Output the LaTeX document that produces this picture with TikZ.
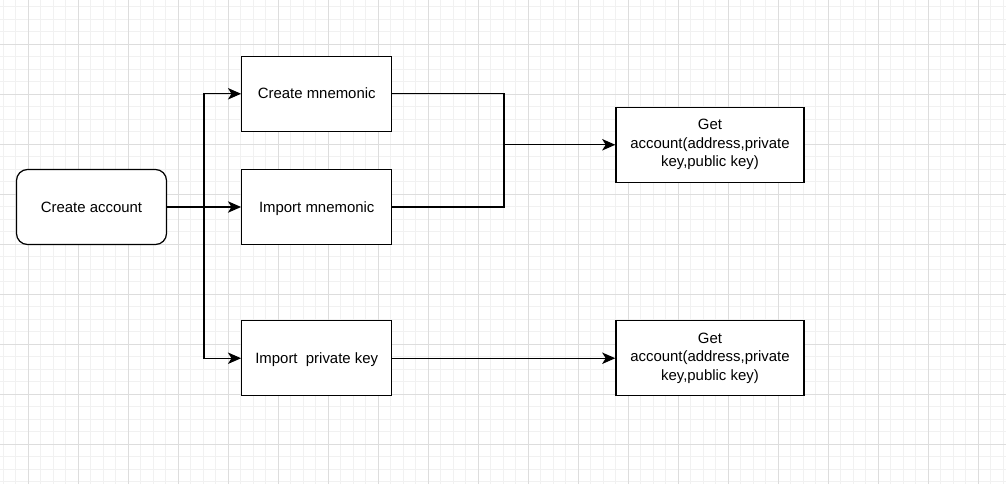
\documentclass[tikz,border=0pt]{standalone}
\usepackage{fontspec}
\setmainfont{Liberation Sans}
\usepackage{xcolor}
\usetikzlibrary{arrows.meta, positioning, calc}

\definecolor{gridmajor}{HTML}{DDDDDD}
\definecolor{gridminor}{HTML}{F1F1F1}

\begin{document}
\begin{tikzpicture}[
        font=\fontsize{8.5}{10.5}\selectfont,
        box/.style={
            rectangle, draw=black, line width=0.7pt, fill=white,
            minimum width=3cm, minimum height=1.5cm, align=center
        },
        single/.style={text height=1.55ex, text depth=0.45ex},
        start/.style={box, single, rounded corners=0.22cm},
        wide/.style={box, minimum width=3.76cm},
        link/.style={line width=0.75pt, black},
        arr/.style={link, -{Stealth[length=7.5pt, width=6.5pt, inset=2pt]}},
        minorgrid/.style={draw=gridminor, line width=0.5pt},
        majorgrid/.style={draw=gridmajor, line width=0.6pt}
    ]
    % === Page and grid ===
    \useasboundingbox (0,0) rectangle (20.12,-9.66);
    \fill[white] (0,0) rectangle (20.12,-9.66);
    \begin{scope}
        \clip (0,0) rectangle (20.12,-9.66);
        \begin{scope}[shift={(0.566,-0.886)}]
            \draw[minorgrid, step=0.25cm] (-2,-10) grid (21,2);
            \draw[majorgrid, step=1cm] (-2,-10) grid (21,2);
        \end{scope}
    \end{scope}

    % === Start ===
    \node[start] (acct) at (1.83,-4.14) {Create account};

    % === Three ways in ===
    \node[box, single, right=1.48cm of acct] (imn) {Import mnemonic};
    \node[box, single, above=0.74cm of imn] (cmn) {Create mnemonic};
    \node[box, single, below=1.5cm of imn] (ipk) {Import~~private key};

    % === Results ===
    \node[wide, right=4.46cm of cmn, yshift=-1.02cm] (get1) {Get\\account(address,private\\key,public key)};
    \node[wide, right=4.46cm of ipk] (get2) {Get\\account(address,private\\key,public key)};

    % === Split ===
    \coordinate (split) at ($(acct.east)!0.5!(imn.west)$);
    \draw[arr] (acct.east) -- (imn.west);
    \draw[arr] (split) |- (cmn.west);
    \draw[arr] (split) |- (ipk.west);

    % === Merge ===
    \coordinate (mid) at ($(cmn.east)!0.5!(get1.west)$);
    \coordinate (join) at (mid |- get1.west);
    \draw[link] (cmn.east) -| (join);
    \draw[link] (imn.east) -| (join);
    \draw[arr] (join) -- (get1.west);

    % === Private key path ===
    \draw[arr] (ipk.east) -- (get2.west);
\end{tikzpicture}
\end{document}
